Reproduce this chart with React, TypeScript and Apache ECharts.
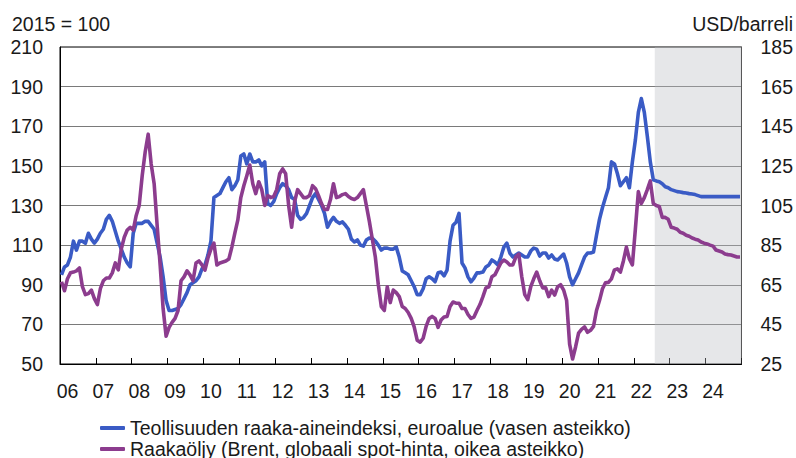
import React, { useEffect, useRef } from "react";
import * as echarts from "echarts";

// ---- data (monthly, Jan 2006 – Dec 2024) ----
const yearLabels = ["06","07","08","09","10","11","12","13","14","15","16","17","18","19","20","21","22","23","24"];
const monthNums = ["01","02","03","04","05","06","07","08","09","10","11","12"];
const months = yearLabels.flatMap((y) => monthNums.map((m) => `20${y}-${m}`));
const forecastStart = "2022-08";

const seriesNames = [
  "Teollisuuden raaka-aineindeksi, euroalue (vasen asteikko)",
  "Raakaöljy (Brent, globaali spot-hinta, oikea asteikko)",
];

// Industrial raw material index, euro area (2015 = 100), left axis
const rawMaterialIndex = [
  95, 99, 100, 104, 112, 107.5, 112, 112, 111, 116, 113, 111, // 2006
  113, 116, 118, 123, 125, 122, 117, 112, 108, 104, 101, 99, // 2007
  116, 121, 121, 121, 122, 122, 120, 118, 111, 104, 94, 82, // 2008
  77, 77, 77.5, 78, 80, 83, 86, 90, 91, 92, 94, 98, // 2009
  100, 105, 112, 134, 135, 136, 139, 142, 144, 138, 140, 143, // 2010
  155, 156, 151, 156, 152, 152, 153, 150, 152, 131, 130, 132, // 2011
  136, 139, 141, 140, 138, 134, 133, 125, 123, 124, 126, 130, // 2012
  134, 136, 133, 130, 126, 119, 122, 124, 122, 121, 121.7, 120, // 2013
  118, 113, 111.6, 112.6, 110, 109.5, 112.6, 113.6, 113.5, 112, 110, 107.5, // 2014
  108.5, 108.5, 108, 108, 109, 104, 97, 96, 95, 92, 89, 85, // 2015
  85, 88, 93, 94, 93, 91.5, 96, 96.4, 94.5, 97.4, 112, 120, // 2016
  121.5, 126, 101, 98.5, 94, 91.5, 93.4, 96, 96, 96.4, 99, 100, // 2017
  102.5, 101.5, 100, 104, 109, 111, 106, 104, 105, 106, 105, 104, // 2018
  104, 107, 108.5, 108, 104.5, 106, 106, 103.5, 105, 103, 102.5, 104, // 2019
  105.5, 101, 94, 90, 93, 96, 100, 104, 106, 106, 106.5, 115, // 2020
  123, 129, 134, 139, 152, 151, 146, 140, 142, 144, 139, 152, // 2021
  163, 177, 184, 177, 165, 152, 143, 142.4, 142, 141, 139.5, 139, // 2022
  138, 137.5, 137, 136.8, 136.5, 136.3, 136, 135.8, 135.5, 135, 134.5, 134.5, // 2023
  134.5, 134.5, 134.5, 134.5, 134.5, 134.5, 134.5, 134.5, 134.5, 134.5, 134.5, 134.5, // 2024
];

// Brent crude oil, USD/barrel, right axis
const brentUsd = [
  66.5, 62, 68, 71, 71.4, 72, 73.5, 64, 60, 60.5, 62.3, 58, // 2006
  55, 63, 67, 68.4, 68.4, 71, 76, 72.5, 83, 89, 92.6, 94, // 2007
  92.6, 100, 105, 120, 132, 141, 126, 116, 95, 75, 53, 39, // 2008
  43.5, 46, 48, 52, 67, 69, 72, 70, 67, 76, 77, 75, // 2009
  72.4, 78.5, 83, 86, 75, 76, 76.5, 77, 78, 84, 91, 97.7, // 2010
  109, 115, 120, 125.4, 116, 111, 117, 113, 105, 110, 109, 109.5, // 2011
  113, 121, 123.5, 121, 105, 94, 107, 113, 111, 109, 109, 110, // 2012
  115, 113.5, 110, 106, 103, 103, 108, 116, 109, 109.5, 110.5, 111, // 2013
  109.5, 108.5, 108, 109, 111, 113, 105, 97, 88, 79, 65, 54, // 2014
  52, 64, 56, 62.3, 61, 59, 54, 53, 51, 48, 43.7, 37, // 2015
  36, 38, 44, 48, 49, 48, 43.5, 47.2, 48.7, 49, 54, 56.3, // 2016
  55.7, 55.7, 53, 53, 50, 48, 48.7, 52, 55, 59, 63.4, 64, // 2017
  69, 70, 73, 76, 77.5, 76.5, 75, 75, 79, 80.5, 69, 60, // 2018
  57.5, 64, 68, 71.4, 67, 63.4, 63.4, 59, 62.3, 59.8, 64, 65, // 2019
  62.3, 57, 35, 27.5, 33.6, 40.6, 42.5, 43.7, 41, 42, 44, 52, // 2020
  57, 63, 66, 66.2, 68, 72.5, 73, 71.4, 77, 84, 78, 75, // 2021
  93, 112, 106, 109, 113, 117.4, 106, 105, 104.5, 99, 99, 98, // 2022
  94, 93.6, 93, 91.5, 91, 90, 89.5, 88.6, 88, 87.6, 86.6, 86, // 2023
  85.6, 85, 84.5, 82.5, 82, 81.5, 80.5, 80.2, 80, 79.5, 79, 79, // 2024
];

const BLUE = "#3A5BC5";
const PURPLE = "#8C3C8E";
const TEXT = "#1a1a1a";
const FONT = '"Liberation Sans", Arial, Helvetica, sans-serif';
const FS = 19.5;

export default function App() {
  const ref = useRef<HTMLDivElement>(null);

  useEffect(() => {
    const chart = echarts.init(ref.current!, null, { renderer: "svg" });
    const n = months.length;
    const fIdx = months.indexOf(forecastStart);
    const toPts = (arr: number[]) => arr.map((v, i) => [i + 0.5, v]);
    const legendBase = {
      orient: "vertical",
      left: 95,
      itemWidth: 25,
      itemHeight: 4,
      icon: "roundRect",
      textStyle: { fontSize: FS, fontFamily: FONT, color: TEXT, lineHeight: 20 },
    };

    chart.setOption({
      animation: false,
      grid: { left: 60, right: 53, top: 47, bottom: 94, show: true, borderColor: "#000", borderWidth: 1, backgroundColor: "transparent" },
      legend: [
        { ...legendBase, top: 413, data: [seriesNames[0]] },
        { ...legendBase, top: 434, data: [seriesNames[1]] },
      ],
      graphic: [
        { type: "text", left: 12, top: 14, style: { text: "2015 = 100", fontSize: FS, fontFamily: FONT, fill: TEXT } },
        { type: "text", right: 3, top: 14, style: { text: "USD/barreli", fontSize: FS, fontFamily: FONT, fill: TEXT } },
      ],
      xAxis: {
        type: "value",
        min: 0,
        max: n,
        interval: 12,
        axisLine: { show: true, lineStyle: { color: "#000", width: 1 } },
        axisTick: { show: true, inside: true, length: 6, lineStyle: { color: "#000" } },
        splitLine: { show: false },
        axisLabel: {
          formatter: (v: number) => (v < n ? yearLabels[Math.round(v / 12)] : ""),
          color: TEXT,
          fontSize: FS,
          fontFamily: FONT,
          margin: 17,
          padding: [0, 0, 0, 15],
        },
      },
      yAxis: [
        {
          type: "value",
          min: 50,
          max: 210,
          interval: 20,
          position: "left",
          axisLine: { show: true, lineStyle: { color: "#000" } },
          axisTick: { show: false },
          splitLine: { show: true, lineStyle: { color: "#7a7a7a", width: 1 } },
          axisLabel: { color: TEXT, fontSize: FS, fontFamily: FONT, margin: 17 },
        },
        {
          type: "value",
          min: 25,
          max: 185,
          interval: 20,
          position: "right",
          axisLine: { show: true, lineStyle: { color: "#444" } },
          axisTick: { show: false },
          splitLine: { show: false },
          axisLabel: { color: TEXT, fontSize: FS, fontFamily: FONT, margin: 19 },
        },
      ],
      series: [
        {
          name: "forecast",
          type: "line",
          data: [],
          z: 1,
          silent: true,
          markArea: {
            silent: true,
            itemStyle: { color: "rgba(185,189,195,0.36)" },
            data: [[{ xAxis: fIdx }, { xAxis: n }]],
          },
        },
        {
          name: seriesNames[0],
          type: "line",
          yAxisIndex: 0,
          data: toPts(rawMaterialIndex),
          symbol: "none",
          showSymbol: false,
          z: 3,
          lineStyle: { color: BLUE, width: 3.6, join: "round" },
          itemStyle: { color: BLUE },
        },
        {
          name: seriesNames[1],
          type: "line",
          yAxisIndex: 1,
          data: toPts(brentUsd),
          symbol: "none",
          showSymbol: false,
          z: 3,
          lineStyle: { color: PURPLE, width: 3.6, join: "round" },
          itemStyle: { color: PURPLE },
        },
      ],
    });
    return () => chart.dispose();
  }, []);

  return <div ref={ref} style={{ position: "absolute", left: 0, top: 0, width: 796, height: 458 }} />;
}
